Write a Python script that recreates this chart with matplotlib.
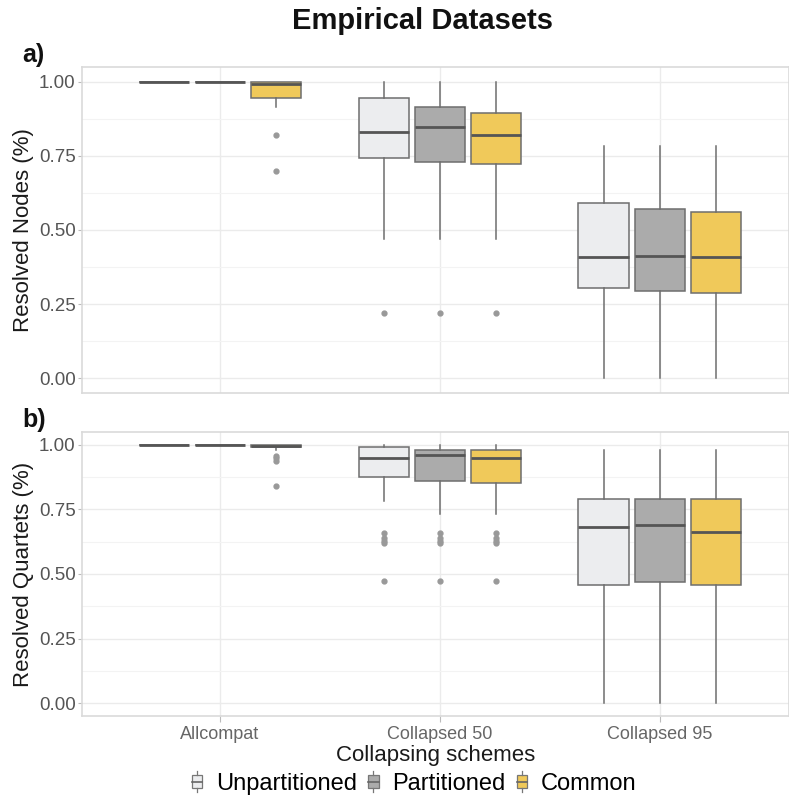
import matplotlib
matplotlib.use("Agg")
import matplotlib.pyplot as plt
from matplotlib.patches import Patch
from matplotlib.legend_handler import HandlerBase
from matplotlib.lines import Line2D
from matplotlib.patches import Rectangle

plt.rcParams['font.family'] = ['Liberation Sans', 'DejaVu Sans']

categories = ["Allcompat", "Collapsed 50", "Collapsed 95"]
series = ["Unpartitioned", "Partitioned", "Common"]
colors = ["#ECEDEF", "#ABABAB", "#F0C95A"]

# Panel a: Resolved Nodes  [whislo, q1, med, q3, whishi]
nodes_unpart = [[1.0, 1.0, 1.0, 1.0, 1.0], [0.470, 0.744, 0.832, 0.945, 1.0], [0.0, 0.305, 0.409, 0.592, 0.785]]
nodes_part   = [[1.0, 1.0, 1.0, 1.0, 1.0], [0.470, 0.730, 0.847, 0.916, 1.0], [0.0, 0.294, 0.413, 0.572, 0.785]]
nodes_common = [[0.916, 0.947, 0.991, 1.0, 1.0], [0.470, 0.724, 0.822, 0.895, 1.0], [0.0, 0.286, 0.409, 0.560, 0.785]]
nodes_unpart_out = [[], [0.220], []]
nodes_part_out   = [[], [0.220], []]
nodes_common_out = [[0.822, 0.698], [0.220], []]

# Panel b: Resolved Quartets
quart_unpart = [[1.0, 1.0, 1.0, 1.0, 1.0], [0.783, 0.874, 0.949, 0.992, 1.0], [0.0, 0.459, 0.681, 0.790, 0.979]]
quart_part   = [[1.0, 1.0, 1.0, 1.0, 1.0], [0.732, 0.861, 0.961, 0.981, 1.0], [0.0, 0.468, 0.690, 0.790, 0.979]]
quart_common = [[0.982, 0.990, 0.997, 1.0, 1.0], [0.732, 0.853, 0.951, 0.981, 1.0], [0.0, 0.459, 0.661, 0.790, 0.979]]
quart_unpart_out = [[], [0.660, 0.638, 0.628, 0.619, 0.471], []]
quart_part_out   = [[], [0.660, 0.638, 0.628, 0.619, 0.471], []]
quart_common_out = [[0.958, 0.949, 0.939, 0.840], [0.660, 0.638, 0.628, 0.619, 0.471], []]

yticks = [0.0, 0.25, 0.5, 0.75, 1.0]
ytick_labels = ["0.00", "0.25", "0.50", "0.75", "1.00"]

fig = plt.figure(figsize=(7.89, 7.98), dpi=100)
W, H = 789, 798

def ax_rect(l, t, r, b):
    return [l / W, 1 - b / H, (r - l) / W, (b - t) / H]

ax_a = fig.add_axes(ax_rect(82, 67, 789, 393))
ax_b = fig.add_axes(ax_rect(82, 432, 789, 716))

dodge = 0.255
width = 0.23

def draw(ax, stats_list, outs_list, ylabel, show_x):
    for si, (stats, outs) in enumerate(zip(stats_list, outs_list)):
        bxp_stats = []
        for ci in range(len(categories)):
            lo, q1, med, q3, hi = stats[ci]
            bxp_stats.append(dict(whislo=lo, q1=q1, med=med, q3=q3, whishi=hi,
                                  fliers=outs[ci], label=categories[ci]))
        pos = [ci + (si - 1) * dodge for ci in range(len(categories))]
        ax.bxp(bxp_stats, positions=pos, widths=width, patch_artist=True,
               showcaps=False, manage_ticks=False,
               boxprops=dict(facecolor=colors[si], edgecolor="#6E6E6E", linewidth=1.1),
               medianprops=dict(color="#555555", linewidth=2.0),
               whiskerprops=dict(color="#6E6E6E", linewidth=1.1),
               flierprops=dict(marker="o", markersize=3.5, markerfacecolor="#999999",
                               markeredgecolor="#999999", linestyle="none"))
    ax.set_xlim(-0.627, 2.587)
    ax.set_ylim(-0.05, 1.05)
    ax.set_yticks(yticks)
    ax.set_yticklabels(ytick_labels)
    ax.set_yticks([0.125, 0.375, 0.625, 0.875], minor=True)
    ax.set_xticks(range(len(categories)))
    ax.set_xticklabels(categories if show_x else [])
    ax.grid(True, which="major", color="#EBEBEB", linewidth=1.0)
    ax.grid(True, which="minor", axis="y", color="#F3F3F3", linewidth=0.8)
    ax.set_axisbelow(True)
    for sp in ax.spines.values():
        sp.set_color("#DADADA")
        sp.set_linewidth(1.2)
    ax.tick_params(axis="y", which="major", length=3, color="#BBBBBB", labelsize=13.5,
                   labelcolor="#555555", pad=1.5)
    ax.tick_params(axis="y", which="minor", length=0)
    ax.tick_params(axis="x", length=4 if show_x else 0, color="#BBBBBB", labelsize=13,
                   labelcolor="#666666", pad=3)
    ax.set_ylabel(ylabel, fontsize=16, color="#1a1a1a")
    ax.yaxis.set_label_coords((34 - 82) / 707, 0.5)

draw(ax_a, [nodes_unpart, nodes_part, nodes_common],
     [nodes_unpart_out, nodes_part_out, nodes_common_out], "Resolved Nodes (%)", False)
draw(ax_b, [quart_unpart, quart_part, quart_common],
     [quart_unpart_out, quart_part_out, quart_common_out], "Resolved Quartets (%)", True)
ax_b.set_xlabel("Collapsing schemes", fontsize=16, color="#1a1a1a", labelpad=2)

fig.text(422 / W, 1 - 21 / H, "Empirical Datasets", ha="center", va="center",
         fontsize=21, fontweight="bold", color="#111111")
fig.text(22 / W, 1 - 55 / H, "a)", ha="left", va="center", fontsize=18,
         fontweight="bold", color="#111111")
fig.text(22 / W, 1 - 420 / H, "b)", ha="left", va="center", fontsize=18,
         fontweight="bold", color="#111111")

class BoxHandler(HandlerBase):
    def __init__(self, color):
        super().__init__()
        self.color = color
    def create_artists(self, legend, orig_handle, xdescent, ydescent, width, height, fontsize, trans):
        cx = xdescent + width / 2
        bw = width * 0.55
        r = Rectangle((cx - bw / 2 - xdescent, -ydescent + height * 0.1), bw, height * 0.8,
                      facecolor=self.color, edgecolor="#777777", linewidth=0.9, transform=trans)
        top = Line2D([cx - xdescent, cx - xdescent], [-ydescent + height * 0.9, -ydescent + height * 1.15],
                     color="#777777", linewidth=0.9, transform=trans)
        bot = Line2D([cx - xdescent, cx - xdescent], [-ydescent - height * 0.15, -ydescent + height * 0.1],
                     color="#777777", linewidth=0.9, transform=trans)
        med = Line2D([cx - bw / 2 - xdescent, cx + bw / 2 - xdescent], [-ydescent + height * 0.5] * 2,
                     color="#666666", linewidth=1.2, transform=trans)
        return [r, top, bot, med]

handles = [Patch(facecolor=c, label=s) for c, s in zip(colors, series)]
fig.legend(handles=handles, labels=series, loc="center", bbox_to_anchor=(412 / W, 1 - 784 / H),
           ncol=3, frameon=False, fontsize=17, handlelength=0.8, handletextpad=0.4,
           columnspacing=0.3,
           handler_map={h: BoxHandler(c) for h, c in zip(handles, colors)})

fig.savefig("out.png", dpi=100, facecolor="white")
